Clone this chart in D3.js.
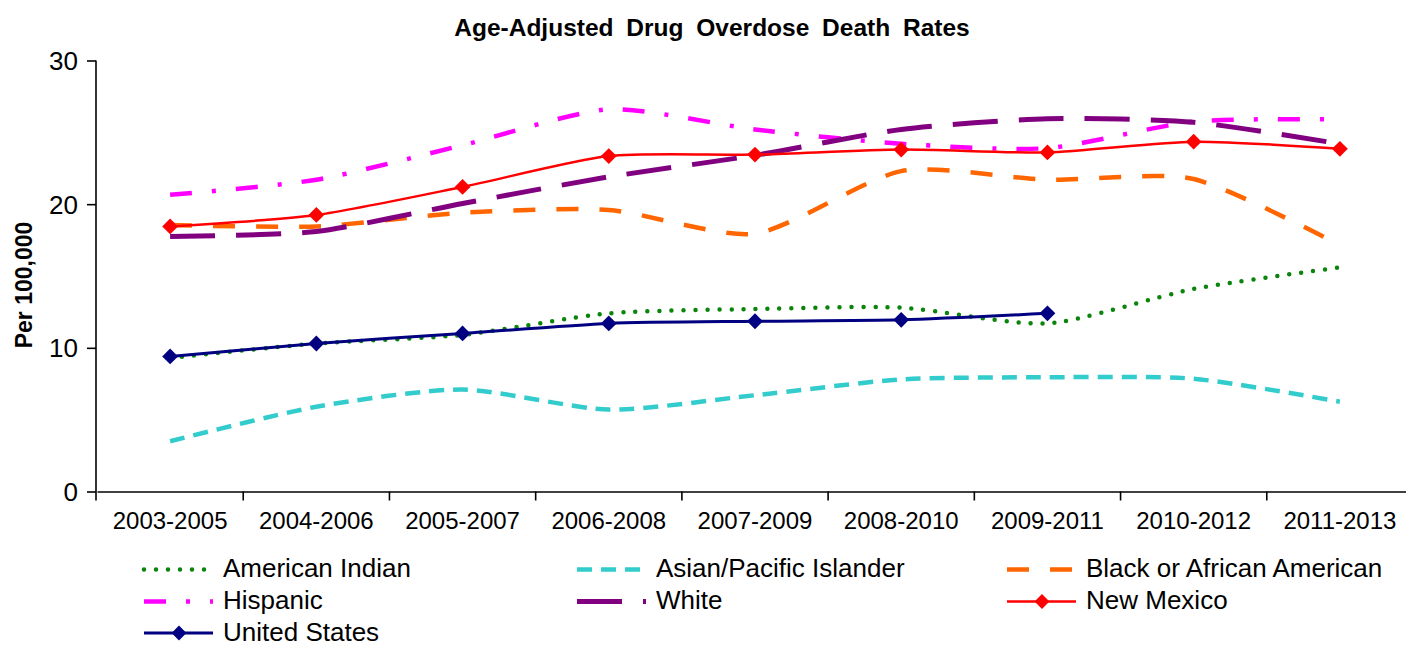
<!DOCTYPE html>
<html>
<head>
<meta charset="utf-8">
<script src="https://cdn.jsdelivr.net/npm/d3@7"></script>
<style>
  html, body { margin: 0; padding: 0; background: #fff; }
  svg { display: block; font-family: "Liberation Sans", Arial, sans-serif; }
</style>
</head>
<body>
<svg id="chart" width="1406" height="646"></svg>
<script>
// Three-year periods on the x axis
const categories = ["2003-2005", "2004-2006", "2005-2007", "2006-2008", "2007-2009",
                    "2008-2010", "2009-2011", "2010-2012", "2011-2013"];

// Age-adjusted rates per 100,000
const americanIndian = [9.3, 10.3, 10.9, 12.4, 12.7, 12.8, 11.7, 14.1, 15.6];
const asianPacific   = [3.5, 5.9, 7.1, 5.7, 6.7, 7.8, 7.95, 7.85, 6.25];
const blackAfrican   = [18.55, 18.45, 19.4, 19.6, 17.95, 22.3, 21.7, 21.75, 17.15];
const hispanic       = [20.65, 21.7, 24.1, 26.6, 25.2, 24.2, 23.9, 25.75, 25.9];
const white          = [17.75, 18.1, 20.05, 21.9, 23.4, 25.2, 25.95, 25.7, 24.2];
const newMexico      = [18.45, 19.25, 21.2, 23.35, 23.45, 23.8, 23.6, 24.35, 23.85];
const unitedStates   = [9.4, 10.3, 11.0, 11.7, 11.85, 11.95, 12.4, null, null];

const yTicks = [0, 10, 20, 30];

const series = [
  { name: "American Indian", values: americanIndian, color: "#0a840a", width: 4.5, dash: "0 12", cap: "round" },
  { name: "Asian/Pacific Islander", values: asianPacific, color: "#33cccc", width: 4.5, dash: "15 9", cap: "butt" },
  { name: "Black or African American", values: blackAfrican, color: "#ff6600", width: 4.5, dash: "22 21", cap: "butt" },
  { name: "Hispanic", values: hispanic, color: "#ff00ff", width: 4.5, dash: "22 20 4 20", cap: "butt" },
  { name: "White", values: white, color: "#800080", width: 5, dash: "45 21", cap: "butt" },
  { name: "New Mexico", values: newMexico, color: "#ff0000", width: 2.5, dash: null, cap: "butt", marker: true },
  { name: "United States", values: unitedStates, color: "#000080", width: 3, dash: null, cap: "butt", marker: true }
];

const svg = d3.select("#chart");

const plot = { left: 97, right: 1413, top: 60.5, bottom: 491.5 };

const x = d3.scaleBand().domain(categories).range([plot.left, plot.right]);
const cx = c => x(c) + x.bandwidth() / 2;
const y = d3.scaleLinear().domain([0, 30]).range([plot.bottom, plot.top]);

// Title
svg.append("text")
  .attr("x", 712).attr("y", 36)
  .attr("text-anchor", "middle")
  .style("font-weight", "bold")
  .style("font-size", "24.5px")
  .style("word-spacing", "6px")
  .attr("fill", "#000")
  .text("Age-Adjusted Drug Overdose Death Rates");

// Y axis
const yAxis = svg.append("g")
  .attr("transform", `translate(${plot.left - 1},0)`)
  .call(d3.axisLeft(y).tickValues(yTicks).tickSize(9).tickSizeOuter(0).tickPadding(9));
yAxis.select(".domain").attr("stroke", "#000").attr("stroke-width", 1.6)
  .attr("d", `M0,${plot.top}V${plot.bottom + 9}`);
yAxis.selectAll(".tick line").attr("stroke", "#000").attr("stroke-width", 1.6);
yAxis.selectAll(".tick text")
  .style("font-size", "26px").attr("fill", "#000").attr("dy", "0.34em");

// X axis with labels centred in each period
const xAxis = svg.append("g")
  .attr("transform", `translate(0,${plot.bottom})`)
  .call(d3.axisBottom(x).tickSize(0).tickSizeOuter(0).tickPadding(0));
xAxis.select(".domain").attr("stroke", "#000").attr("stroke-width", 1.6);
xAxis.selectAll(".tick text")
  .style("font-size", "24px").attr("fill", "#000")
  .attr("dy", null).attr("y", 37);

// Boundary ticks between periods
xAxis.selectAll(".bound")
  .data(categories.slice(1))
  .join("line")
  .attr("class", "bound")
  .attr("x1", d => x(d)).attr("x2", d => x(d))
  .attr("y1", 0).attr("y2", 9)
  .attr("stroke", "#000").attr("stroke-width", 1.6);

// Y axis title
svg.append("text")
  .attr("transform", "translate(32,285) rotate(-90)")
  .attr("text-anchor", "middle")
  .style("font-weight", "bold")
  .style("font-size", "23px")
  .attr("fill", "#000")
  .text("Per 100,000");

// Smoothed series lines
const line = d3.line()
  .defined(d => d.v != null)
  .x(d => cx(d.c))
  .y(d => y(d.v))
  .curve(d3.curveCardinal.tension(0.3));

const diamond = d3.symbol().type(d3.symbolSquare).size(125);

const lines = svg.append("g");
series.forEach(s => {
  const pts = categories.map((c, i) => ({ c, v: s.values[i] }));
  lines.append("path")
    .datum(pts)
    .attr("d", line)
    .attr("fill", "none")
    .attr("stroke", s.color)
    .attr("stroke-width", s.width)
    .attr("stroke-linecap", s.cap)
    .attr("stroke-linejoin", "round")
    .attr("stroke-dasharray", s.dash);
  if (s.marker) {
    lines.selectAll(null)
      .data(pts.filter(d => d.v != null))
      .join("path")
      .attr("d", diamond)
      .attr("transform", d => `translate(${cx(d.c)},${y(d.v)}) rotate(45)`)
      .attr("fill", s.color);
  }
});

// Legend: three columns, row-major
const legendCols = [144, 577, 1007];
const legendRows = [569.5, 601.5, 633];
const legend = svg.append("g");
series.forEach((s, i) => {
  const lx = legendCols[i % 3];
  const ly = legendRows[Math.floor(i / 3)];
  const g = legend.append("g").attr("transform", `translate(${lx},${ly})`);
  g.append("line")
    .attr("x1", 0).attr("x2", 69).attr("y1", 0).attr("y2", 0)
    .attr("stroke", s.color)
    .attr("stroke-width", s.width)
    .attr("stroke-linecap", s.cap)
    .attr("stroke-dasharray", s.dash);
  if (s.marker) {
    g.append("path")
      .attr("d", d3.symbol().type(d3.symbolSquare).size(110))
      .attr("transform", "translate(35,0) rotate(45)")
      .attr("fill", s.color);
  }
  g.append("text")
    .attr("x", 79).attr("y", 7.5)
    .style("font-size", "26px")
    .attr("fill", "#000")
    .text(s.name);
});
</script>
</body>
</html>
